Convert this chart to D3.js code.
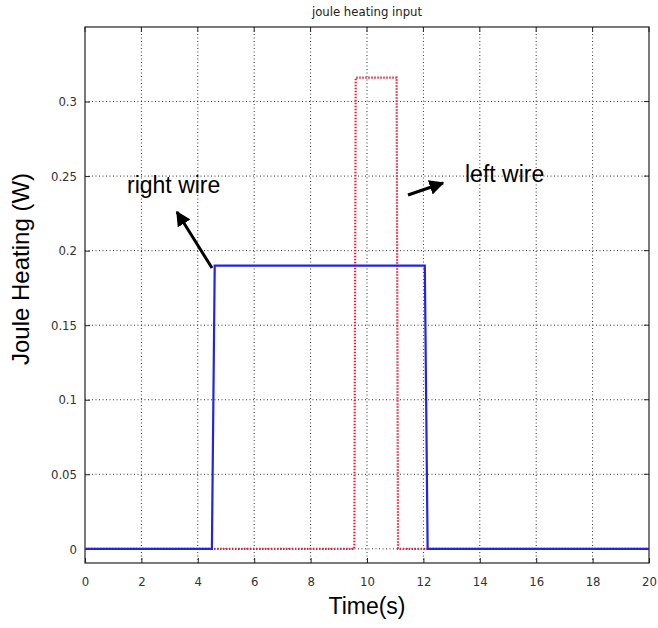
<!DOCTYPE html>
<html><head><meta charset="utf-8">
<script src="https://cdn.jsdelivr.net/npm/d3@7"></script>
<style>body{margin:0;background:#fff}</style>
</head><body>
<svg id="chart" width="658" height="628"></svg>
<script>
const title = "joule heating input";
const xLabel = "Time(s)";
const yLabel = "Joule Heating (W)";
const xTicks = [0,2,4,6,8,10,12,14,16,18,20];
const yTicks = [0,0.05,0.1,0.15,0.2,0.25,0.3];
const yTickLabels = ["0","0.05","0.1","0.15","0.2","0.25","0.3"];
// right wire (blue solid)
const rightTime = [0,4.5,4.6,12.05,12.15,20];
const rightPower = [0,0,0.19,0.19,0,0];
// left wire (red dotted)
const leftTime = [0,9.55,9.6,11.05,11.1,20];
const leftPower = [0,0,0.316,0.316,0,0];
const annotations = [
  {text:"right wire", tx:127, ty:193, from:[212,268], to:[177,212]},
  {text:"left wire", tx:465, ty:182, from:[408,195], to:[443,183]}
];

const svg = d3.select("#chart");
const L=85, R=649, T=27, B=563;
const x = d3.scaleLinear().domain([0,20]).range([L,R]);
const y = d3.scaleLinear().domain([-0.0095,0.35]).range([B,T]);
const small = "'Liberation Sans Narrow','DejaVu Sans Condensed',Arial,sans-serif";
const big = "Arial,'Liberation Sans',sans-serif";

// grid
svg.append("g").selectAll("line").data(xTicks.slice(1,-1)).join("line")
  .attr("x1",d=>x(d)).attr("x2",d=>x(d)).attr("y1",T).attr("y2",B)
  .attr("stroke","#333").attr("stroke-width",1).attr("stroke-dasharray","1,2.5");
svg.append("g").selectAll("line").data(yTicks).join("line")
  .attr("x1",L).attr("x2",R).attr("y1",d=>y(d)).attr("y2",d=>y(d))
  .attr("stroke","#333").attr("stroke-width",1).attr("stroke-dasharray","1,2.5");

// axes
const xAxis = d3.axisBottom(x).tickValues(xTicks).tickSize(-5).tickPadding(14).tickFormat(d3.format("d"));
const gx = svg.append("g").attr("transform",`translate(0,${B})`).call(xAxis);
const yAxis = d3.axisLeft(y).tickValues(yTicks).tickSize(-5).tickPadding(8).tickFormat((d,i)=>yTickLabels[i]);
const gy = svg.append("g").attr("transform",`translate(${L},0)`).call(yAxis);
[gx,gy].forEach(g=>{
  g.select(".domain").remove();
  g.selectAll("line").attr("stroke","#222");
  g.selectAll("text").attr("font-family",small).attr("font-size",13).attr("fill","#333");
});
// top ticks & right ticks
svg.append("g").selectAll("line").data(xTicks).join("line")
  .attr("x1",d=>x(d)).attr("x2",d=>x(d)).attr("y1",T).attr("y2",T+5).attr("stroke","#222");
svg.append("g").selectAll("line").data(yTicks).join("line")
  .attr("x1",R).attr("x2",R-5).attr("y1",d=>y(d)).attr("y2",d=>y(d)).attr("stroke","#222");

// frame
svg.append("rect").attr("x",L).attr("y",T).attr("width",R-L).attr("height",B-T)
  .attr("fill","none").attr("stroke","#222").attr("stroke-width",1.2);

const line = d3.line().x(d=>x(d[0])).y(d=>y(d[1]));
svg.append("path").datum(leftTime.map((t,i)=>[t,leftPower[i]]))
  .attr("d",line).attr("fill","none").attr("stroke","#e8203c").attr("stroke-width",2.2)
  .attr("stroke-dasharray","1.5,1.5");
svg.append("path").datum(rightTime.map((t,i)=>[t,rightPower[i]]))
  .attr("d",line).attr("fill","none").attr("stroke","#2424e0").attr("stroke-width",2.2);

// titles
svg.append("text").attr("x",367).attr("y",16).attr("text-anchor","middle")
  .attr("font-family",small).attr("font-size",13).attr("fill","#222").text(title);
svg.append("text").attr("x",367).attr("y",614).attr("text-anchor","middle")
  .attr("font-family",big).attr("font-size",23).attr("fill","#000").text(xLabel);
svg.append("text").attr("transform","translate(29,269) rotate(-90)").attr("text-anchor","middle")
  .attr("font-family",big).attr("font-size",24).attr("fill","#000").text(yLabel);

// annotations
const defs = svg.append("defs");
defs.append("marker").attr("id","ah").attr("viewBox","0 0 10 10").attr("refX",9).attr("refY",5)
  .attr("markerWidth",5).attr("markerHeight",5).attr("orient","auto")
  .append("path").attr("d","M0,0 L10,5 L0,10 Z").attr("fill","#000");
annotations.forEach(a=>{
  svg.append("text").attr("x",a.tx).attr("y",a.ty).attr("font-family",big)
    .attr("font-size",23).attr("fill","#000").text(a.text);
  svg.append("line").attr("x1",a.from[0]).attr("y1",a.from[1]).attr("x2",a.to[0]).attr("y2",a.to[1])
    .attr("stroke","#000").attr("stroke-width",3).attr("marker-end","url(#ah)");
});
</script>
</body></html>
